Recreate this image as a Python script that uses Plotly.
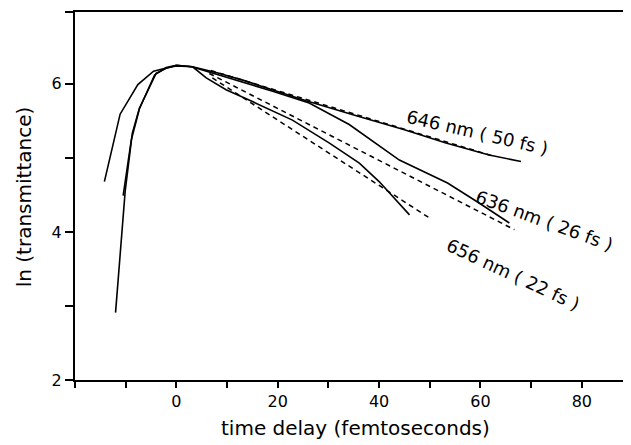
import plotly.graph_objects as go

# Measured curves (time delay in fs, ln(transmittance))
t_646 = [-14.2, -11.1, -7.6, -4.5, -2.2, 0, 3.2, 8, 13.1, 19, 25.6, 35, 45, 53.2, 61.7, 68.0]
y_646 = [4.68, 5.59, 5.99, 6.17, 6.21, 6.24, 6.23, 6.15, 6.05, 5.92, 5.77, 5.58, 5.38, 5.20, 5.04, 4.95]

t_636 = [-10.5, -8.9, -7.3, -4.3, -2, 0, 3, 8, 13, 19, 26.2, 34.1, 44.0, 53.5, 59.5, 65.7]
y_636 = [4.49, 5.24, 5.66, 6.12, 6.22, 6.25, 6.23, 6.13, 6.03, 5.90, 5.74, 5.45, 4.97, 4.66, 4.40, 4.12]

t_656 = [-12.0, -10.1, -8.7, -7.3, -4.0, -2.0, 0, 3.2, 5.9, 9.8, 15.0, 22.9, 30.2, 36.1, 40.0, 46.0]
y_656 = [2.91, 4.55, 5.33, 5.67, 6.14, 6.21, 6.25, 6.23, 6.08, 5.92, 5.76, 5.51, 5.20, 4.93, 4.68, 4.23]

# Exponential-decay fits (dashed), start/end points
fit_t_646 = [6.8, 62.7]
fit_y_646 = [6.18, 5.02]
fit_t_636 = [6.5, 66.7]
fit_y_636 = [6.14, 4.03]
fit_t_656 = [7.1, 49.9]
fit_y_656 = [6.08, 4.19]

labels = ["646 nm ( 50 fs )", "636 nm ( 26 fs )", "656 nm ( 22 fs )"]
label_x = [59.4, 72.6, 66.5]
label_y = [5.34, 4.15, 3.43]
label_angle = [13, 20, 25]

x_tickvals = [-20, 0, 20, 40, 60, 80]
x_ticktext = ["", "0", "20", "40", "60", "80"]
y_tickvals = [2, 4, 6]

FONT = "DejaVu Sans"

fig = go.Figure()
solid = dict(color="black", width=1.6)
dashed = dict(color="black", width=1.5, dash="5px,4px")
for t, y in [(t_646, y_646), (t_636, y_636), (t_656, y_656)]:
    fig.add_trace(go.Scatter(x=t, y=y, mode="lines", line=solid, showlegend=False))
for t, y in [(fit_t_646, fit_y_646), (fit_t_636, fit_y_636), (fit_t_656, fit_y_656)]:
    fig.add_trace(go.Scatter(x=t, y=y, mode="lines", line=dashed, showlegend=False))

for txt, lx, ly, ang in zip(labels, label_x, label_y, label_angle):
    fig.add_annotation(x=lx, y=ly, xref="x", yref="y", text=txt, showarrow=False,
                       textangle=ang, font=dict(family=FONT, size=18, color="black"))

# axis titles as annotations (paper coords)
fig.add_annotation(x=0.505, y=-0.13, xref="paper", yref="paper", text="time delay (femtoseconds)",
                   xanchor="center", yanchor="middle",
                   showarrow=False, font=dict(family=FONT, size=20, color="black"))
fig.add_annotation(x=-0.092, y=0.499, xref="paper", yref="paper", text="ln (transmittance)",
                   xanchor="center", yanchor="middle",
                   showarrow=False, textangle=-90, font=dict(family=FONT, size=20, color="black"))

fig.update_layout(
    width=623, height=437,
    margin=dict(l=67, r=1, t=4, b=65, autoexpand=False),
    paper_bgcolor="white", plot_bgcolor="white",
    font=dict(family=FONT, size=16, color="black"),
    showlegend=False,
)
fig.update_xaxes(
    range=[-20, 89.5], showgrid=False, zeroline=False, automargin=False,
    showline=True, linecolor="black", linewidth=2, mirror=True,
    ticks="outside", ticklen=6, tickwidth=1.5, tickcolor="black",
    tickvals=x_tickvals, ticktext=x_ticktext,
    minor=dict(tickvals=[-10, 10, 30, 50, 70], ticks="outside", ticklen=6, tickwidth=1.5, tickcolor="black"),
    tickfont=dict(size=16),
)
fig.update_yaxes(
    range=[2, 6.97], showgrid=False, zeroline=False, automargin=False,
    showline=True, linecolor="black", linewidth=2, mirror=False,
    ticks="outside", ticklen=8, tickwidth=1.5, tickcolor="black",
    tickvals=y_tickvals,
    minor=dict(tickvals=[3, 5, 6.97], ticks="outside", ticklen=8, tickwidth=1.5, tickcolor="black"),
    tickfont=dict(size=16),
)

fig.write_html("out.html")
